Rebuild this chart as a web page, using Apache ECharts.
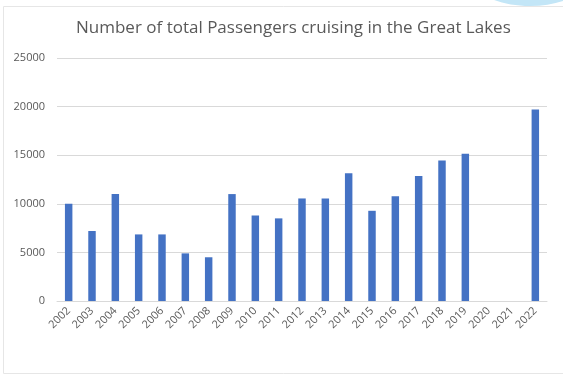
<!DOCTYPE html>
<html><head><meta charset="utf-8">
<script src="https://cdn.jsdelivr.net/npm/echarts@6/dist/echarts.min.js"></script>
<style>html,body{margin:0;padding:0;background:#fff}#c{width:563px;height:375px}</style>
</head><body><div id="c"></div>
<script>
const years = ['2002','2003','2004','2005','2006','2007','2008','2009','2010','2011','2012','2013','2014','2015','2016','2017','2018','2019','2020','2021','2022'];
const passengers = [10000,7200,11000,6850,6850,4900,4500,11000,8800,8500,10550,10550,13150,9280,10780,12870,14450,15150,null,null,19700];
const yTicks = [0,5000,10000,15000,20000,25000];

const chart = echarts.init(document.getElementById('c'));
chart.setOption({
  animation:false,
  graphic:[
    {type:'rect', shape:{x:3.5,y:6.5,width:570,height:367}, style:{fill:'none', stroke:'#E6E6E6', lineWidth:1}, z:-1},
    {type:'ellipse', shape:{cx:530,cy:-22,rx:58,ry:28}, style:{fill:'#C3E6F7'}, z:-2}
  ],
  title:{text:'Number of total Passengers cruising in the Great Lakes', left:71, top:15,
    textStyle:{fontFamily:'Open Sans', fontSize:17, fontWeight:'normal', color:'#595959'}},
  grid:{left:57, right:16, top:58, bottom:74},
  xAxis:{type:'category', data:years,
    axisLine:{lineStyle:{color:'#D9D9D9'}}, axisTick:{show:false},
    axisLabel:{rotate:45, color:'#595959', fontSize:11, fontFamily:'Open Sans', interval:0, margin:8}},
  yAxis:{type:'value', min:yTicks[0], max:yTicks[yTicks.length-1], interval:5000,
    axisLine:{show:false}, axisTick:{show:false},
    splitLine:{lineStyle:{color:'#D9D9D9'}},
    axisLabel:{color:'#595959', fontSize:11, fontFamily:'Open Sans', margin:12, formatter:v=>String(v)}},
  series:[{type:'bar', data:passengers, barWidth:'32%', itemStyle:{color:'#4472C4'}}]
});
</script></body></html>
